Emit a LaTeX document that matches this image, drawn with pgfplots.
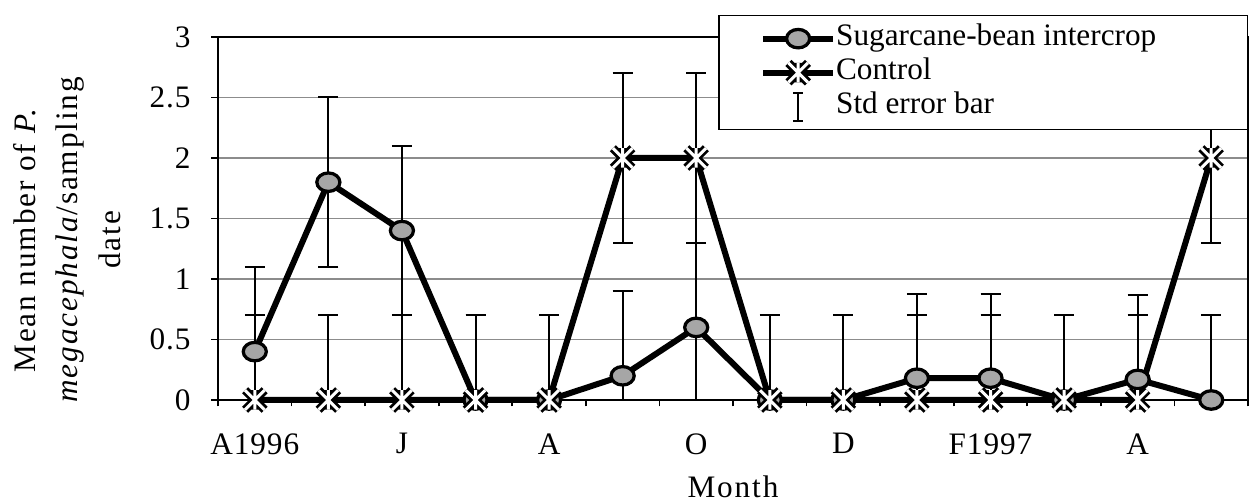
\documentclass[border=0pt]{standalone}
\usepackage{fontspec}
\setmainfont{Liberation Serif}
\newfontfamily\spaced{Liberation Serif}[LetterSpace=6]
\newfontfamily\tickfont{Liberation Serif}[LetterSpace=3]
\usepackage{pgfplots}
\pgfplotsset{compat=1.18}

% white asterisk-like cross on a black outline, used for the control series
\pgfdeclareplotmark{ctrlx}{%
  \pgfsetbuttcap
  \pgfsetlinewidth{3.4pt}%
  \pgfsetstrokecolor{black}%
  \pgfpathmoveto{\pgfqpoint{-\pgfplotmarksize}{-\pgfplotmarksize}}%
  \pgfpathlineto{\pgfqpoint{\pgfplotmarksize}{\pgfplotmarksize}}%
  \pgfpathmoveto{\pgfqpoint{-\pgfplotmarksize}{\pgfplotmarksize}}%
  \pgfpathlineto{\pgfqpoint{\pgfplotmarksize}{-\pgfplotmarksize}}%
  \pgfpathmoveto{\pgfqpoint{0pt}{-\pgfplotmarksize}}%
  \pgfpathlineto{\pgfqpoint{0pt}{\pgfplotmarksize}}%
  \pgfusepathqstroke
  \pgfsetlinewidth{1.2pt}%
  \pgfsetstrokecolor{white}%
  \pgfpathmoveto{\pgfqpoint{-\pgfplotmarksize}{-\pgfplotmarksize}}%
  \pgfpathlineto{\pgfqpoint{\pgfplotmarksize}{\pgfplotmarksize}}%
  \pgfpathmoveto{\pgfqpoint{-\pgfplotmarksize}{\pgfplotmarksize}}%
  \pgfpathlineto{\pgfqpoint{\pgfplotmarksize}{-\pgfplotmarksize}}%
  \pgfpathmoveto{\pgfqpoint{0pt}{-\pgfplotmarksize}}%
  \pgfpathlineto{\pgfqpoint{0pt}{\pgfplotmarksize}}%
  \pgfusepathqstroke
}

\begin{document}
\fontsize{12.5}{15}\selectfont
\begin{tikzpicture}
\path[use as bounding box] (-87.2pt,-40.4pt) rectangle (415.6pt,160pt);
\begin{axis}[
  at={(0pt,0pt)}, anchor=south west,
  scale only axis, width=412pt, height=145.2pt,
  xmin=-0.5, xmax=13.5, ymin=0, ymax=3,
  axis line style={line width=1.1pt},
  clip=false,
  /pgf/number format/assume math mode=true,
  ticklabel style={font=\tickfont},
  ytick={0,0.5,1,1.5,2,2.5,3},
  yticklabels={0,0.5,1,1.5,2,2.5,3},
  yticklabel style={xshift=-4pt},
  ymajorgrids,
  grid style={black!45, line width=0.7pt},
  xtick={-0.5,0.5,...,13.5},
  xticklabels={},
  extra x ticks={0,2,4,6,8,10,12},
  extra x tick labels={A1996,J,A,O,D,F1997,A},
  extra x tick style={major tick length=0pt, grid=none,
    xticklabel style={yshift=-9pt}},
  tick align=outside, tick pos=left,
  major tick length=2.6pt,
  tick style={black, line width=0.7pt},
  xlabel={Month},
  xlabel style={font=\spaced, at={(axis description cs:0.5,-0.238)}, anchor=center},
  ylabel={Mean number of \textit{P.}\\\textit{megacephala}/sampling\\date},
  ylabel style={align=center, font=\spaced\fontsize{12.5}{17}\selectfont,
    at={(axis description cs:-0.1466,0.441)}, anchor=center},
  legend cell align=left,
  legend image code/.code={%
    \draw[mark repeat=2, mark phase=2] plot coordinates {(0pt,0pt) (14pt,0pt) (28pt,0pt)};},
  legend style={at={(axis description cs:1,1.0606)}, anchor=north east,
    draw=black, line width=0.5pt, fill=white,
    inner xsep=16.5pt, inner ysep=2.4pt, row sep=0pt,
    nodes={inner xsep=0pt, inner ysep=0pt, text height=9.6pt, text depth=4pt},
    font=\fontsize{12.5}{15}\selectfont},
  error bars/error bar style={line width=0.8pt, black},
  error bars/error mark options={rotate=90, mark size=4pt, line width=0.8pt, black},
]
% sugarcane-bean intercrop, mean with standard error (lower bar stops at zero)
\addplot[black, line width=2.4pt, mark=*, mark size=4.2pt,
  mark options={fill=black!35, draw=black, line width=1.3pt, xscale=1.1, yscale=0.88},
  error bars/.cd, y dir=both, y explicit]
  coordinates {
  (0,0.4) += (0,0.7) -= (0,0.4)
  (1,1.8) += (0,0.7) -= (0,0.7)
  (2,1.4) += (0,0.7) -= (0,0.7)
  (3,0) += (0,0.7) -= (0,0)
  (4,0) += (0,0.7) -= (0,0)
  (5,0.2) += (0,0.7) -= (0,0.2)
  (6,0.6) += (0,0.7) -= (0,0.6)
  (7,0) += (0,0.7) -= (0,0)
  (8,0) += (0,0.7) -= (0,0)
  (9,0.18) += (0,0.7) -= (0,0.18)
  (10,0.18) += (0,0.7) -= (0,0.18)
  (11,0) += (0,0.7) -= (0,0)
  (12,0.17) += (0,0.7) -= (0,0.17)
  (13,0) += (0,0.7) -= (0,0)
  };
\addlegendentry{\makebox[148pt][l]{Sugarcane-bean intercrop}}
% control plots
\addplot[black, line width=2.4pt, mark=ctrlx, mark size=3.9pt,
  error bars/.cd, y dir=both, y explicit]
  coordinates {
  (0,0) += (0,0.7) -= (0,0)
  (1,0) += (0,0.7) -= (0,0)
  (2,0) += (0,0.7) -= (0,0)
  (3,0) += (0,0.7) -= (0,0)
  (4,0) += (0,0.7) -= (0,0)
  (5,2) += (0,0.7) -= (0,0.7)
  (6,2) += (0,0.7) -= (0,0.7)
  (7,0) += (0,0.7) -= (0,0)
  (8,0) += (0,0.7) -= (0,0)
  (9,0) += (0,0.7) -= (0,0)
  (10,0) += (0,0.7) -= (0,0)
  (11,0) += (0,0.7) -= (0,0)
  (12,0) += (0,0.7) -= (0,0)
  (13,2) += (0,0.7) -= (0,0.7)
  };
\addlegendentry{Control}
\addlegendimage{legend image code/.code={%
  \path[draw=none] (0pt,0pt) -- (28pt,0pt);
  \draw[black, line width=0.7pt] (14pt,-5.6pt) -- (14pt,5.6pt)
    (12pt,-5.6pt) -- (16pt,-5.6pt) (12pt,5.6pt) -- (16pt,5.6pt);}}
\addlegendentry{Std error bar}
\end{axis}
\end{tikzpicture}
\end{document}
